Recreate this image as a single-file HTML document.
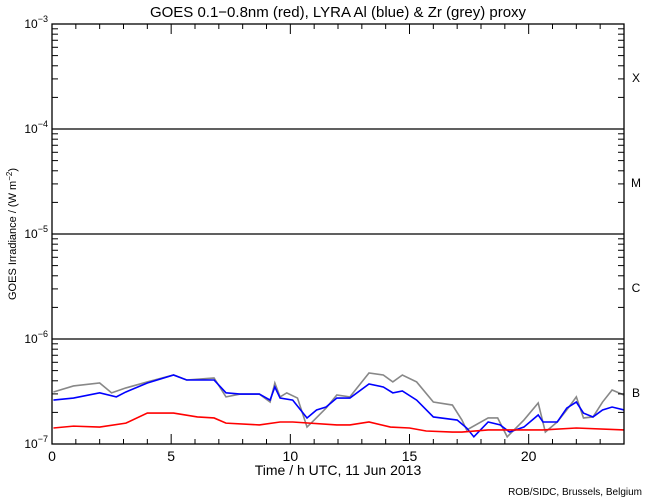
<!DOCTYPE html>
<html><head><meta charset="utf-8"><style>
body{margin:0;background:#fff}
svg{display:block;font-family:"Liberation Sans",sans-serif}
</style></head><body>
<svg id="chart" width="650" height="500" viewBox="0 0 650 500">
<text x="338" y="17" font-size="15" text-anchor="middle">GOES 0.1−0.8nm (red), LYRA Al (blue) &amp; Zr (grey) proxy</text>
<text transform="translate(16,234) rotate(-90)" font-size="11" text-anchor="middle">GOES Irradiance / (W m<tspan dy="-4" font-size="8">−2</tspan><tspan dy="4">)</tspan></text>
<text x="338" y="475" font-size="14" text-anchor="middle">Time / h UTC, 11 Jun 2013</text>
<text x="642" y="495" font-size="10" text-anchor="end">ROB/SIDC, Brussels, Belgium</text>
<g id="grid"></g><g id="series"></g><g id="axes"></g>
</svg>
<script>
const tBlue=[0.06,0.9,2.0,2.7,3.1,4.0,5.1,5.65,6.8,7.3,7.9,8.7,9.15,9.35,9.57,10.1,10.7,11.1,11.5,11.95,12.5,13.3,13.9,14.3,14.7,15.3,16.0,17.0,17.4,17.7,18.3,18.8,19.2,19.8,20.4,20.6,21.2,21.6,22.0,22.3,22.7,23.1,23.5,24];
const vBlue=[2.62,2.74,3.07,2.81,3.13,3.81,4.54,4.07,4.07,3.07,2.99,2.99,2.62,3.49,2.74,2.62,1.77,2.11,2.25,2.74,2.74,3.73,3.49,3.07,3.20,2.62,1.81,1.69,1.42,1.17,1.62,1.52,1.30,1.45,1.89,1.62,1.62,2.20,2.51,1.97,1.81,2.11,2.25,2.11];
const tGrey=[0.06,0.9,2.0,2.5,3.1,4.0,5.1,5.65,6.8,7.3,7.9,8.7,9.15,9.35,9.57,9.85,10.3,10.7,11.0,11.5,11.95,12.5,13.3,13.9,14.3,14.7,15.3,16.0,16.8,17.2,17.4,18.3,18.7,19.1,19.8,20.4,20.7,21.2,21.6,22.0,22.3,22.7,23.1,23.5,24];
const vGrey=[3.13,3.57,3.81,3.07,3.42,3.90,4.54,4.07,4.25,2.81,2.99,2.99,2.51,3.81,2.81,3.07,2.74,1.45,1.69,2.20,2.93,2.81,4.75,4.54,3.90,4.54,3.90,2.51,2.35,1.69,1.36,1.77,1.77,1.17,1.69,2.46,1.30,1.62,2.11,2.81,1.77,1.81,2.51,3.27,2.93];
const tRed=[0.06,0.9,2.0,3.1,4.0,5.1,6.1,6.8,7.3,8.7,9.57,10.1,11.95,12.5,13.3,14.2,15.0,15.7,16.8,17.2,18.3,19.5,20.6,22.0,24];
const vRed=[1.42,1.48,1.45,1.58,1.97,1.97,1.81,1.77,1.58,1.52,1.62,1.62,1.52,1.52,1.62,1.45,1.42,1.33,1.30,1.30,1.36,1.36,1.36,1.42,1.36];
const xTickLabels=["0","5","10","15","20"];
const classLabels=["X","M","C","B"];
const NS="http://www.w3.org/2000/svg";
const X0=52,X1=624,Y0=24,Y1=444;
const xs=t=>X0+(X1-X0)*t/24;
const ys=v=>Y1-105*Math.log10(v); // v in units of 1e-7 W m^-2
function mk(tag,attrs,parent){const e=document.createElementNS(NS,tag);for(const k in attrs)e.setAttribute(k,attrs[k]);parent.appendChild(e);return e;}
const grid=document.getElementById('grid'),ser=document.getElementById('series'),ax=document.getElementById('axes');
// frame
const fr=mk('rect',{x:X0,y:Y0,width:X1-X0,height:Y1-Y0,fill:'none',stroke:'#000','stroke-width':1.3},ax);


// decade lines & labels
for(let d=1;d<=3;d++){
  const y=Y1-105*d;
  const l=mk('line',{x1:X0,x2:X1,y1:y,y2:y,stroke:'#000','stroke-width':1.2},grid);
  
  
}
for(let d=0;d<=4;d++){
  const y=Y1-105*d;
  const tx=mk('text',{x:X0-4,y:y+4,'font-size':12,'text-anchor':'end'},ax);
  tx.innerHTML='10<tspan dy="-6" font-size="9">−'+(7-d)+'</tspan>';
  
  
  if(d<4){
    for(let m=2;m<=9;m++){
      const yy=y-105*Math.log10(m);
      mk('line',{x1:X0,x2:X0+6,y1:yy,y2:yy,stroke:'#000'},ax);
      mk('line',{x1:X1,x2:X1-6,y1:yy,y2:yy,stroke:'#000'},ax);
    }
    const c=mk('text',{x:636,y:y-52+5,'font-size':12,'text-anchor':'middle'},ax);
    c.textContent=classLabels[3-d];
    
    
  }
}
for(let h=0;h<=24;h++){
  const x=xs(h),len=h%5==0?10:5;
  mk('line',{x1:x,x2:x,y1:Y1,y2:Y1-len,stroke:'#000'},ax);
  mk('line',{x1:x,x2:x,y1:Y0,y2:Y0+len,stroke:'#000'},ax);
}
xTickLabels.forEach(s=>{
  const t=mk('text',{x:xs(+s),y:461,'font-size':14,'text-anchor':'middle'},ax);
  t.textContent=s;
  
  
});
function line(ts,vs,col,name){
  const p=mk('polyline',{points:ts.map((t,i)=>xs(t)+','+ys(vs[i])).join(' '),fill:'none',stroke:col,'stroke-width':1.6},ser);
  
  
}
line(tGrey,vGrey,'#888','zr-proxy-grey-series');
line(tBlue,vBlue,'#0000ff','al-proxy-blue-series');
line(tRed,vRed,'#ff0000','goes-red-series');
</script>
</body></html>
